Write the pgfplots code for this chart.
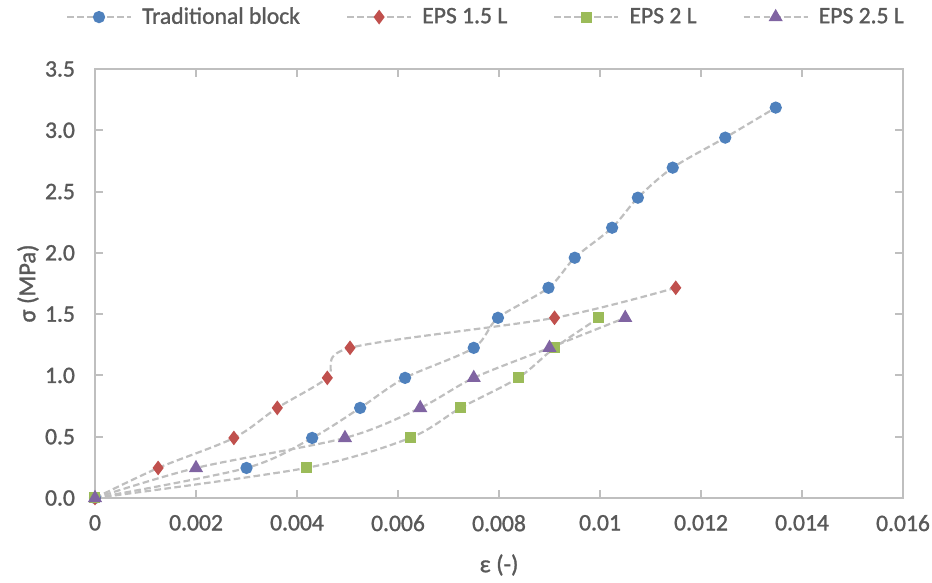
\documentclass[border=0pt]{standalone}
\usepackage{pgfplots}
\pgfplotsset{compat=1.18}
\usepackage{fontspec}
\setmainfont{Carlito}[FakeBold=1.2]
\definecolor{txt}{HTML}{595959}
\definecolor{axc}{HTML}{BFBFBF}
\definecolor{lnc}{HTML}{BFBFBF}
\definecolor{c1}{HTML}{4F81BD}
\definecolor{c2}{HTML}{C0504D}
\definecolor{c3}{HTML}{9BBB59}
\definecolor{c4}{HTML}{8064A2}
\pgfplotsset{
  ser/.style={lnc, line width=1.1pt, dash pattern=on 3.3pt off 1.7pt, smooth, tension=0.5},
}
\begin{document}
\begin{tikzpicture}
\begin{axis}[name=ax, at={(0,0)}, anchor=south west,
  scale only axis, width=404pt, height=214.5pt,
  xmin=0, xmax=0.016, ymin=0, ymax=3.5,
  scaled x ticks=false, scaled y ticks=false,
  clip=false,
  axis line style={axc, line width=1pt},
  tick style={axc, line width=1pt},
  tick align=inside, major tick length=4pt,
  xtick={0,0.002,0.004,0.006,0.008,0.01,0.012,0.014,0.016},
  xticklabels={0,0.002,0.004,0.006,0.008,0.01,0.012,0.014,0.016},
  ytick={0,0.5,1,1.5,2,2.5,3,3.5},
  yticklabels={0.0,0.5,1.0,1.5,2.0,2.5,3.0,3.5},
  /pgf/number format/assume math mode=true,
  ticklabel style={font=\fontsize{11.8}{14}\selectfont, text=txt},
  xticklabel style={yshift=-5pt},
  yticklabel style={xshift=-6.5pt},
  xlabel={ε (-)}, ylabel={σ (MPa)},
  label style={font=\fontsize{12.2}{14}\selectfont, text=txt},
  xlabel style={at={(axis description cs:0.5,0)}, anchor=center, yshift=-33.5pt},
  ylabel style={at={([xshift=-33.5pt]axis description cs:0,0.5)}, anchor=center},
  legend columns=4,
  legend style={at={(0.485,1.121)}, anchor=center, draw=none, fill=none,
    font=\fontsize{11.8}{14}\selectfont, text=txt,
    /tikz/every odd column/.append style={column sep=3pt},
    /tikz/every even column/.append style={column sep=21pt}},
  legend image code/.code={\draw[#1, mark repeat=2, mark phase=2] plot coordinates {(0pt,0pt) (16pt,0pt) (32pt,0pt)};},
]
\addplot[ser, mark=*, mark options={solid, fill=c1, draw=c1}, mark size=2.5pt] coordinates {
(0,0) (0.0030,0.245) (0.0043,0.49) (0.00525,0.735) (0.00614,0.98) (0.0075,1.225) (0.00798,1.47)
(0.00898,1.715) (0.0095,1.96) (0.01024,2.205) (0.01075,2.45) (0.01144,2.695) (0.01248,2.94) (0.01348,3.185)};
\addlegendentry{Traditional block}
\addplot[ser, mark=diamond*, mark options={solid, fill=c2, draw=c2}, mark size=2.8pt] coordinates {
(0,0) (0.00125,0.245) (0.00275,0.49) (0.00361,0.735) (0.0046,0.98) (0.00505,1.225) (0.0091,1.47) (0.0115,1.715)};
\addlegendentry{EPS 1.5 L}
\addplot[ser, mark=square*, mark options={solid, fill=c3, draw=c3}, mark size=2.2pt] coordinates {
(0,0) (0.00418,0.245) (0.00624,0.49) (0.00724,0.735) (0.00838,0.98) (0.0091,1.225) (0.00998,1.47)};
\addlegendentry{EPS 2 L}
\addplot[ser, mark=triangle*, mark options={solid, fill=c4, draw=c4}, mark size=3pt] coordinates {
(0,0) (0.0020,0.245) (0.00495,0.49) (0.00644,0.735) (0.0075,0.98) (0.0090,1.225) (0.0105,1.47)};
\addlegendentry{EPS 2.5 L}
\end{axis}
\pgfresetboundingbox
\path[use as bounding box] ([xshift=-47.5pt,yshift=-42.5pt]ax.south west) rectangle ([xshift=14.5pt,yshift=34.5pt]ax.north east);
\end{tikzpicture}
\end{document}
